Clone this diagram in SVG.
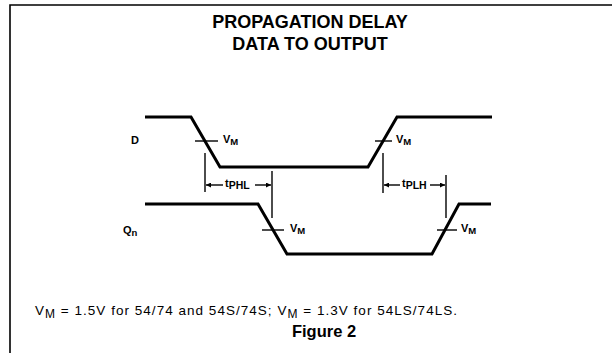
<svg xmlns="http://www.w3.org/2000/svg" width="612" height="353" viewBox="0 0 612 353">
<style>
.wave{fill:none;stroke:#000;stroke-width:3;stroke-linejoin:miter}
.thin{fill:none;stroke:#000;stroke-width:1.4}
.frame{fill:none;stroke:#000;stroke-width:1.6}
.t{font-family:"Liberation Sans",Arial,sans-serif;fill:#000}
.title{font-size:18px;font-weight:bold;text-anchor:middle}
.lbl{font-size:11px;font-weight:bold}
.sub{font-size:9.5px}
.tsub{font-size:10.5px}
.note{font-size:13.5px}
.nsub{font-size:12px}
</style>
<defs>
<marker id="ah" viewBox="0 0 10 10" refX="10" refY="5" markerWidth="7" markerHeight="5" orient="auto" markerUnits="userSpaceOnUse">
<path d="M0,0 L10,5 L0,10 z" fill="#000"/>
</marker>
</defs>
<rect width="612" height="353" fill="#fff"/>
<path class="frame" d="M10,353 L10,5 L612,5"/>
<g id="title">
<text class="t title" x="310" y="28">PROPAGATION DELAY</text>
<text class="t title" x="310" y="50">DATA TO OUTPUT</text>
</g>
<g id="D">
<text class="t lbl" x="131" y="144">D</text>
<path class="wave" d="M145,117 L191,117 L220,167 L368,167 L397,117 L492,117"/>
</g>
<g id="Qn">
<text class="t lbl" x="123" y="234">Q<tspan class="sub" dy="2">n</tspan></text>
<path class="wave" d="M145,204 L258,204 L287,254 L432,254 L459,204 L491,204"/>
</g>
<g id="connectors">
<line class="thin" x1="195" y1="141" x2="218" y2="141"/>
<line class="thin" x1="375" y1="141" x2="392" y2="141"/>
<line class="thin" x1="262" y1="230" x2="284" y2="230"/>
<line class="thin" x1="437" y1="230" x2="457" y2="230"/>
<line class="thin" x1="205" y1="153" x2="205" y2="192"/>
<line class="thin" x1="272" y1="171" x2="272" y2="218"/>
<line class="thin" x1="383" y1="153" x2="383" y2="193"/>
<line class="thin" x1="446" y1="175" x2="446" y2="218"/>
<line class="thin" x1="223" y1="185" x2="206" y2="185" marker-end="url(#ah)"/>
<line class="thin" x1="255" y1="185" x2="271" y2="185" marker-end="url(#ah)"/>
<line class="thin" x1="400" y1="185" x2="384" y2="185" marker-end="url(#ah)"/>
<line class="thin" x1="430" y1="185" x2="445" y2="185" marker-end="url(#ah)"/>
</g>
<g id="labels">
<text class="t lbl" x="223" y="143">V<tspan class="sub" dy="2">M</tspan></text>
<text class="t lbl" x="396" y="143">V<tspan class="sub" dy="2">M</tspan></text>
<text class="t lbl" x="290" y="232">V<tspan class="sub" dy="2">M</tspan></text>
<text class="t lbl" x="461" y="232">V<tspan class="sub" dy="2">M</tspan></text>
<text class="t lbl" x="225" y="187" font-weight="normal">t<tspan class="tsub" dy="2">PHL</tspan></text>
<text class="t lbl" x="402" y="187" font-weight="normal">t<tspan class="tsub" dy="2">PLH</tspan></text>
</g>
<g id="note">
<text class="t note" x="35" y="315" textLength="422" lengthAdjust="spacing">V<tspan class="nsub" dy="3">M</tspan><tspan dy="-3"> = 1.5V for 54/74 and 54S/74S; V</tspan><tspan class="nsub" dy="3">M</tspan><tspan dy="-3"> = 1.3V for 54LS/74LS.</tspan></text>
<text class="t" x="324" y="337" font-size="16.5" font-weight="bold" text-anchor="middle">Figure 2</text>
</g>
</svg>
